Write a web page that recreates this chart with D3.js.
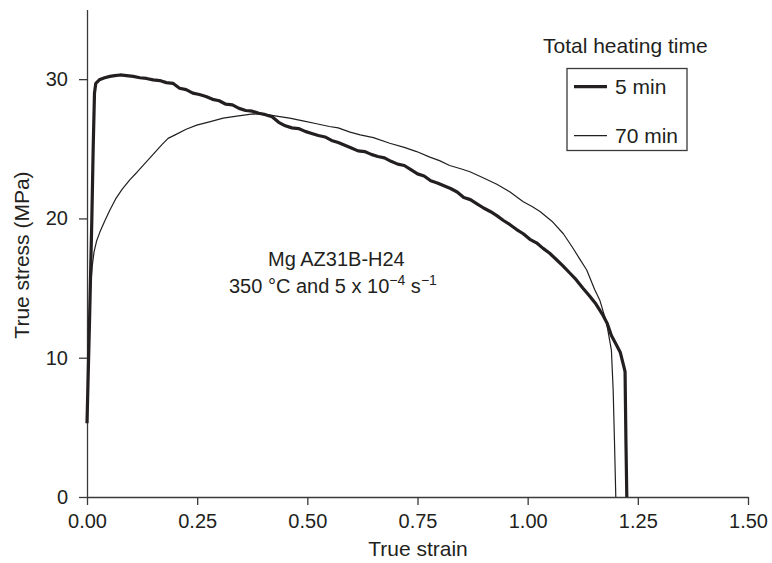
<!DOCTYPE html>
<html>
<head>
<meta charset="utf-8">
<script src="https://cdn.jsdelivr.net/npm/d3@7"></script>
<style>
  body { margin: 0; background: #fff; }
  svg text { font-family: "Liberation Sans", Arial, Helvetica, sans-serif; fill: #231f20; }
</style>
</head>
<body>
<div id="chart"></div>
<script>
// tick labels
var xTicks = [0, 0.25, 0.5, 0.75, 1.0, 1.25, 1.5]
var yTicks = [0, 10, 20, 30]

// 5 min heating (thick line)
var strain5 = [0.000, 0.006, 0.011, 0.014, 0.017, 0.020, 0.028, 0.040, 0.052, 0.063, 0.075, 0.090, 0.105, 0.120, 0.135,
  0.150, 0.165, 0.180, 0.195, 0.210, 0.225, 0.240, 0.255, 0.270, 0.285, 0.300, 0.315, 0.330, 0.345, 0.360,
  0.375, 0.390, 0.405, 0.420, 0.435, 0.450, 0.465, 0.480, 0.495, 0.510, 0.525, 0.540, 0.555, 0.570, 0.585,
  0.600, 0.615, 0.630, 0.645, 0.660, 0.675, 0.690, 0.705, 0.720, 0.735, 0.750, 0.765, 0.780, 0.795, 0.810,
  0.825, 0.840, 0.855, 0.870, 0.885, 0.900, 0.915, 0.930, 0.945, 0.960, 0.975, 0.990, 1.005, 1.020, 1.035,
  1.050, 1.065, 1.080, 1.095, 1.110, 1.125, 1.140, 1.155, 1.170, 1.180, 1.190, 1.200, 1.210, 1.218, 1.221,
  1.223, 1.225]
var stress5 = [5.3, 13.0, 20.0, 25.0, 29.0, 29.7, 29.95, 30.1, 30.2, 30.25, 30.3, 30.25, 30.2, 30.1, 30.05,
  29.95, 29.9, 29.75, 29.7, 29.35, 29.25, 29.0, 28.9, 28.75, 28.55, 28.45, 28.2, 28.15, 27.9, 27.75,
  27.7, 27.55, 27.45, 27.3, 26.9, 26.65, 26.5, 26.45, 26.25, 26.1, 25.95, 25.85, 25.6, 25.45, 25.25,
  25.05, 24.85, 24.8, 24.6, 24.45, 24.35, 24.1, 23.9, 23.8, 23.5, 23.2, 23.05, 22.7, 22.55, 22.35,
  22.15, 21.9, 21.5, 21.35, 21.05, 20.75, 20.5, 20.2, 19.85, 19.55, 19.2, 18.9, 18.5, 18.25, 17.85,
  17.5, 17.05, 16.6, 16.1, 15.6, 15.0, 14.45, 13.85, 13.1, 12.5, 11.6, 11.0, 10.4, 9.4, 9.0,
  4.0, 0.0]

// 70 min heating (thin line)
var strain70 = [0.001, 0.005, 0.008, 0.012, 0.016, 0.022, 0.029, 0.040, 0.052, 0.065, 0.080, 0.098, 0.113, 0.130,
  0.150, 0.170, 0.184, 0.200, 0.225, 0.249, 0.280, 0.309, 0.340, 0.377, 0.410, 0.430, 0.460, 0.490, 0.521,
  0.550, 0.570, 0.597, 0.620, 0.650, 0.687, 0.720, 0.748, 0.778, 0.800, 0.823, 0.850, 0.869, 0.900, 0.930,
  0.960, 0.990, 1.010, 1.028, 1.055, 1.081, 1.100, 1.118, 1.134, 1.152, 1.164, 1.179, 1.190, 1.194, 1.197,
  1.200]
var stress70 = [6.0, 12.0, 15.0, 16.6, 17.6, 18.4, 19.0, 19.8, 20.6, 21.4, 22.1, 22.8, 23.3, 23.9,
  24.6, 25.3, 25.75, 26.0, 26.4, 26.7, 26.95, 27.2, 27.35, 27.5, 27.45, 27.35, 27.2, 27.0, 26.8,
  26.6, 26.5, 26.2, 26.0, 25.8, 25.4, 25.1, 24.8, 24.4, 24.15, 23.8, 23.55, 23.35, 22.9, 22.45,
  21.9, 21.2, 20.85, 20.5, 19.8, 18.9, 18.0, 17.1, 16.3, 14.9, 14.1, 12.5, 10.55, 7.7, 4.0,
  0.0]

var seriesNames = ["5 min", "70 min"]

var width = 772, height = 563
var margin = {top: 9.5, left: 87, right: 24, bottom: 66}

var svg = d3.select("#chart").append("svg")
  .attr("width", width)
  .attr("height", height)

//scales
var x = d3.scaleLinear().domain([0, 1.5]).range([margin.left, width - margin.right])
var y = d3.scaleLinear().domain([0, 35]).range([height - margin.bottom, margin.top])

//axes
var xAxis = d3.axisBottom(x).tickValues(xTicks).tickFormat(d3.format(".2f"))
  .tickSize(8).tickSizeOuter(0).tickPadding(9)
var yAxis = d3.axisLeft(y).tickValues(yTicks).tickFormat(d3.format("d"))
  .tickSize(8).tickSizeOuter(0).tickPadding(11)

var gx = svg.append("g")
  .attr("transform", "translate(0," + y(0) + ")")
  .call(xAxis)
var gy = svg.append("g")
  .attr("transform", "translate(" + x(0) + ",0)")
  .call(yAxis)

svg.selectAll(".domain, .tick line").attr("stroke", "#3a3a3a").attr("stroke-width", 1.3)
svg.selectAll(".tick text").attr("font-size", 20).attr("font-family", null).attr("fill", "#231f20")

//axis titles
svg.append("text")
  .attr("x", 418)
  .attr("y", 556)
  .attr("text-anchor", "middle")
  .attr("font-size", 21)
  .text("True strain")

svg.append("text")
  .attr("transform", "translate(29," + 255 + ") rotate(-90)")
  .attr("text-anchor", "middle")
  .attr("font-size", 21)
  .text("True stress (MPa)")

//lines
var line = d3.line()
  .x(function(d) { return x(d[0]) })
  .y(function(d) { return y(d[1]) })

var data70 = strain70.map(function(s, i) { return [s, stress70[i]] })
var data5 = strain5.map(function(s, i) { return [s, stress5[i]] })

svg.append("path")
  .datum(data70)
  .attr("d", line)
  .attr("fill", "none")
  .attr("stroke", "#231f20")
  .attr("stroke-width", 1.2)
  .attr("stroke-linejoin", "round")

svg.append("path")
  .datum(data5)
  .attr("d", line)
  .attr("fill", "none")
  .attr("stroke", "#231f20")
  .attr("stroke-width", 3.2)
  .attr("stroke-linejoin", "round")

//annotation
svg.append("text")
  .attr("x", 268)
  .attr("y", 266)
  .attr("font-size", 20)
  .text("Mg AZ31B-H24")

var note = svg.append("text")
  .attr("x", 229)
  .attr("y", 293)
  .attr("font-size", 20)
note.append("tspan").text("350 °C and 5 x 10")
note.append("tspan").attr("font-size", 14).attr("dy", -8).text("\u22124")
note.append("tspan").attr("dy", 8).text(" s")
note.append("tspan").attr("font-size", 14).attr("dy", -8).text("\u22121")

//legend
svg.append("text")
  .attr("x", 543)
  .attr("y", 53)
  .attr("font-size", 21)
  .text("Total heating time")

svg.append("rect")
  .attr("x", 567)
  .attr("y", 68.5)
  .attr("width", 120)
  .attr("height", 82)
  .attr("fill", "none")
  .attr("stroke", "#3a3a3a")
  .attr("stroke-width", 1.3)

var legendY = [86.7, 135.7]
var legendW = [3.2, 1.2]
seriesNames.forEach(function(name, i) {
  svg.append("line")
    .attr("x1", 574).attr("x2", 607)
    .attr("y1", legendY[i]).attr("y2", legendY[i])
    .attr("stroke", "#231f20")
    .attr("stroke-width", legendW[i])
  svg.append("text")
    .attr("x", 615)
    .attr("y", legendY[i] + 7)
    .attr("font-size", 21)
    .text(name)
})
</script>
</body>
</html>
